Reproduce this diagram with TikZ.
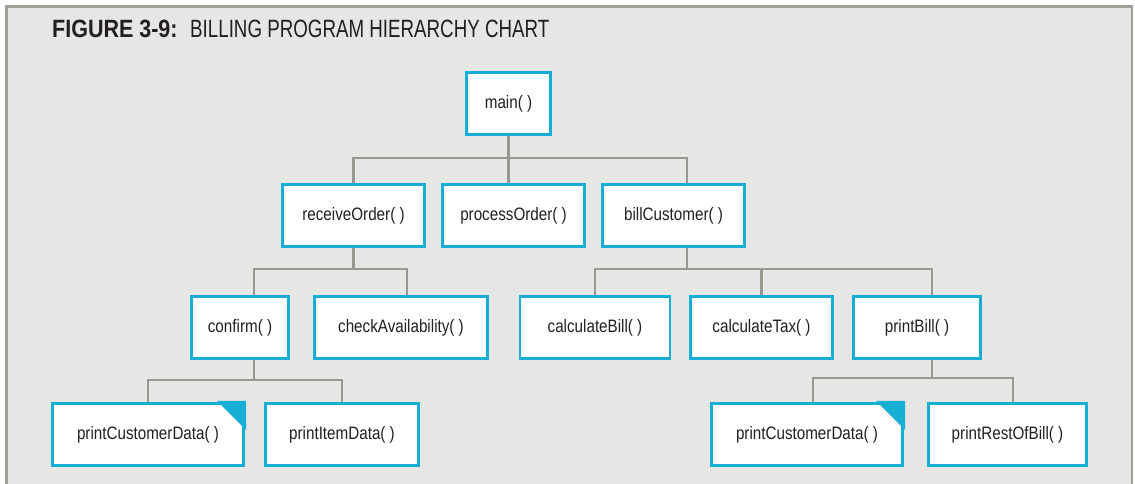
\documentclass[tikz,border=0pt]{standalone}
\usepackage{fontspec}
\setmainfont{Liberation Sans}
\newfontfamily\boxfont{Liberation Sans}[FakeStretch=0.845]
\newfontfamily\headboldfont{Liberation Sans}[FakeStretch=0.86]
\newfontfamily\headfont{Liberation Sans}[FakeStretch=0.75]
\usetikzlibrary{calc}
\definecolor{panel}{RGB}{230,230,228}
\definecolor{rim}{RGB}{160,160,153}
\definecolor{wire}{RGB}{152,152,145}
\definecolor{edge}{RGB}{22,174,211}
\definecolor{ink}{RGB}{35,31,32}
\pgfdeclarelayer{back}
\pgfdeclarelayer{wires}
\pgfsetlayers{back,wires,main}
\begin{document}
\begin{tikzpicture}[x=1pt,y=-1pt,
  box/.style={draw=edge, fill=white, line width=2.6pt, minimum height=62pt,
    inner sep=0pt, text=ink, font=\boxfont\fontsize{18}{20}\selectfont},
  conn/.style={draw=wire, line width=2.7pt},
  headtxt/.style={anchor=base west, inner sep=0pt, text=ink}
]
\useasboundingbox (0,0) rectangle (1135,483);

% panel and its rim
\begin{pgfonlayer}{back}
  \clip (0,0) rectangle (1135,483);
  \fill[white] (0,0) rectangle (1135,483);
  \draw[rim, line width=2.6pt, fill=panel] (6.2,6.2) rectangle (1132,500);
\end{pgfonlayer}

% heading
\node[headtxt, font=\headboldfont\bfseries\fontsize{25}{28}\selectfont] (figtag) at (52,37) {FIGURE 3-9:};
\node[headtxt, font=\headfont\fontsize{25}{28}\selectfont] (figtitle) at (190,37) {BILLING PROGRAM HIERARCHY CHART};

% modules
\node[box, minimum width=84pt] (main) at (508.5,103.5) {main( )};

\node[box, minimum width=142pt] (receiveOrder) at (353.5,215.5) {receiveOrder( )};
\node[box, minimum width=142pt] (processOrder) at (513.5,215.5) {processOrder( )};
\node[box, minimum width=142pt] (billCustomer) at (673.5,215.5) {billCustomer( )};

\node[box, minimum width=97pt]  (confirm) at (240,327.5) {confirm( )};
\node[box, minimum width=173pt] (checkAvailability) at (401,327.5) {checkAvailability( )};
\node[box, minimum width=150pt] (calculateBill) at (595,327.5) {calculateBill( )};
\node[box, minimum width=142pt] (calculateTax) at (761.5,327.5) {calculateTax( )};
\node[box, minimum width=127pt] (printBill) at (917,327.5) {printBill( )};

\node[box, minimum width=191pt] (pcdA) at (148,434.5) {printCustomerData( )};
\node[box, minimum width=153pt] (printItemData) at (342,434.5) {printItemData( )};
\node[box, minimum width=191pt] (pcdB) at (807,434.5) {printCustomerData( )};
\node[box, minimum width=158pt] (printRestOfBill) at (1007.5,434.5) {printRestOfBill( )};

% folded corners of the shared module
\fill[edge] ([shift={(1.3pt,1.3pt)}]pcdA.north east) -- ++(-29,0) -- ++(29,29) -- cycle;
\fill[edge] ([shift={(1.3pt,1.3pt)}]pcdB.north east) -- ++(-29,0) -- ++(29,29) -- cycle;

% bus levels and attachment points
\coordinate (busA) at (0,158);
\coordinate (busB) at (0,269);
\coordinate (busC) at (0,380);
\coordinate (busD) at (0,378);
\coordinate (bcUp) at ([xshift=13.5pt]billCustomer.north);
\coordinate (bcDown) at ([xshift=13.5pt]billCustomer.south);
\coordinate (cfUp) at ([xshift=14pt]confirm.north);
\coordinate (cfDown) at ([xshift=14pt]confirm.south);
\coordinate (caUp) at ([xshift=6pt]checkAvailability.north);
\coordinate (pbUp) at ([xshift=15pt]printBill.north);
\coordinate (pbDown) at ([xshift=15pt]printBill.south);
\coordinate (pdUp) at ([xshift=6pt]pcdB.north);
\coordinate (prUp) at ([xshift=5.5pt]printRestOfBill.north);

\begin{pgfonlayer}{wires}
  % main
  \draw[conn] (main.south) -- (processOrder.north -| main.south);
  \draw[conn] (receiveOrder.north) |- (bcUp |- busA) -- (bcUp);
  % receiveOrder
  \draw[conn] (receiveOrder.south) -- (receiveOrder.south |- busB);
  \draw[conn] (cfUp) |- (caUp |- busB) -- (caUp);
  % billCustomer
  \draw[conn] (bcDown) -- (bcDown |- busB);
  \draw[conn] (calculateBill.north) |- (pbUp |- busB) -- (pbUp);
  \draw[conn] (calculateTax.north) -- (calculateTax.north |- busB);
  % confirm
  \draw[conn] (cfDown) -- (cfDown |- busC);
  \draw[conn] (pcdA.north) |- (printItemData.north |- busC) -- (printItemData.north);
  % printBill
  \draw[conn] (pbDown) -- (pbDown |- busD);
  \draw[conn] (pdUp) |- (prUp |- busD) -- (prUp);
\end{pgfonlayer}
\end{tikzpicture}
\end{document}
